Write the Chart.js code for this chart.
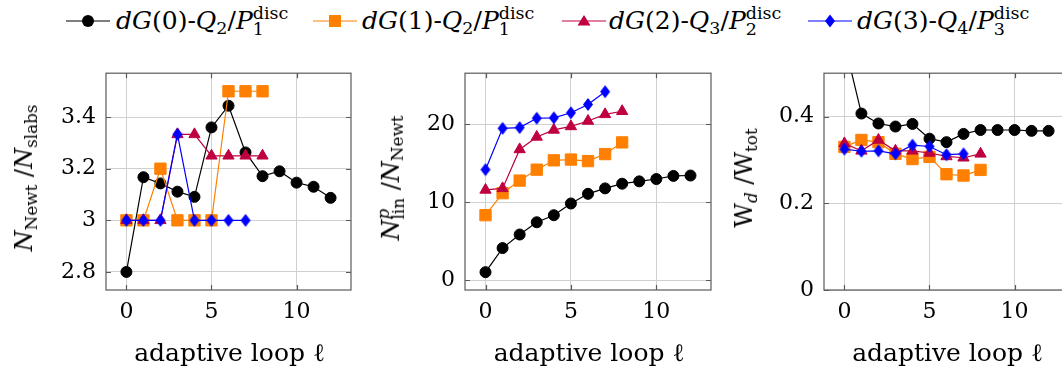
<!DOCTYPE html>
<html><head><meta charset="utf-8">
<script src="https://cdn.jsdelivr.net/npm/chart.js@4.4.1/dist/chart.umd.min.js"></script>
<style>
html,body{margin:0;padding:0;overflow:hidden;background:#fff;width:1062px;height:368px;}
body{position:relative;font-family:"DejaVu Serif",serif;color:#000;}
canvas{position:absolute;}
.t{position:absolute;white-space:nowrap;line-height:1;}
.leg{font-size:25px;}
.ax{font-size:24px;}
.axx{font-size:25px;}
.sub{font-size:.7em;vertical-align:-.28em;line-height:0}
.ss{display:inline-block;font-size:.7em;line-height:.9;vertical-align:-.32em;text-align:left}
.ss span{display:block}
.rot{transform:translate(-50%,-50%) rotate(-90deg);}
svg{position:absolute;overflow:visible}
</style></head><body>
<canvas id="c1" width="350" height="290" style="left:20px;top:50px"></canvas>
<canvas id="c2" width="350" height="290" style="left:380px;top:50px"></canvas>
<canvas id="c3" width="350" height="290" style="left:740px;top:50px"></canvas>
<div id="legend"></div>
<div class="t ax rot" style="left:24px;top:178px"><i>N</i><span class="sub">Newt</span> /<i>N</i><span class="sub">slabs</span></div>
<div class="t ax rot" style="left:391px;top:178px"><i>N</i><span class="ss"><span><i>p</i></span><span>lin</span></span> /<i>N</i><span class="sub">Newt</span></div>
<div class="t ax rot" style="left:744px;top:178px">W<span class="sub"><i>d</i></span> /W<span class="sub">tot</span></div>
<div class="t axx" style="left:229.5px;top:340px;transform:translateX(-50%)">adaptive loop ℓ</div>
<div class="t axx" style="left:589px;top:340px;transform:translateX(-50%)">adaptive loop ℓ</div>
<div class="t axx" style="left:947.5px;top:340px;transform:translateX(-50%)">adaptive loop ℓ</div>
<script>
// ---------- data ----------
const LOOP = [0,1,2,3,4,5,6,7,8,9,10,11,12];
const X_TICKS = [0,5,10];

const SERIES_LABELS = [
  '<i>dG</i>(0)-<i>Q</i><span class="sub">2</span>/<i>P</i><span class="ss"><span>disc</span><span>1</span></span>',
  '<i>dG</i>(1)-<i>Q</i><span class="sub">2</span>/<i>P</i><span class="ss"><span>disc</span><span>1</span></span>',
  '<i>dG</i>(2)-<i>Q</i><span class="sub">3</span>/<i>P</i><span class="ss"><span>disc</span><span>2</span></span>',
  '<i>dG</i>(3)-<i>Q</i><span class="sub">4</span>/<i>P</i><span class="ss"><span>disc</span><span>3</span></span>'
];

// panel 1: N_Newt / N_slabs
const NEWT_DG0 = [2.80, 3.167, 3.143, 3.111, 3.091, 3.36, 3.444, 3.263, 3.171, 3.19, 3.146, 3.13, 3.087];
const NEWT_DG1 = [3, 3, 3.2, 3, 3, 3, 3.5, 3.5, 3.5];
const NEWT_DG2 = [3, 3, 3, 3.333, 3.333, 3.25, 3.25, 3.25, 3.25];
const NEWT_DG3 = [3, 3, 3, 3.333, 3, 3, 3, 3];
const Y1_TICKS = [2.8, 3, 3.2, 3.4];

// panel 2: N^p_lin / N_Newt
const LIN_DG0 = [1.05, 4.14, 5.88, 7.45, 8.36, 9.86, 11.1, 11.8, 12.4, 12.7, 13.0, 13.4, 13.45];
const LIN_DG1 = [8.36, 11.18, 12.8, 14.2, 15.4, 15.5, 15.3, 16.2, 17.7];
const LIN_DG2 = [11.6, 11.8, 16.8, 18.4, 19.3, 19.75, 20.45, 21.3, 21.7];
const LIN_DG3 = [14.2, 19.5, 19.6, 20.8, 20.85, 21.5, 22.57, 24.2];
const Y2_TICKS = [0, 10, 20];

// panel 3: W_d / W_tot
const W_DG0 = [0.57, 0.407, 0.384, 0.377, 0.383, 0.349, 0.341, 0.36, 0.369, 0.369, 0.369, 0.367, 0.367];
const W_DG1 = [0.330, 0.346, 0.341, 0.314, 0.302, 0.307, 0.267, 0.264, 0.277];
const W_DG2 = [0.338, 0.321, 0.346, 0.321, 0.321, 0.316, 0.308, 0.305, 0.314];
const W_DG3 = [0.325, 0.32, 0.321, 0.314, 0.334, 0.331, 0.312, 0.314];
const Y3_TICKS = [0, 0.2, 0.4];

// ---------- styles ----------
const FONT = '"DejaVu Serif", serif';
const GRID = '#d0d0d0';
const FRAME = '#5a5a5a';
const COLORS = ['#000000', '#ff8000', '#bf0040', '#0000ff'];

function diamond(w, h, color) {
  const c = document.createElement('canvas');
  c.width = w + 2; c.height = h + 2;
  const g = c.getContext('2d');
  g.fillStyle = color;
  g.beginPath();
  g.moveTo((w + 2) / 2, 1); g.lineTo(w + 1, (h + 2) / 2);
  g.lineTo((w + 2) / 2, h + 1); g.lineTo(1, (h + 2) / 2);
  g.closePath(); g.fill();
  return c;
}
const MARKS = [
  {pointStyle: 'circle', pointRadius: 5.5},
  {pointStyle: 'rect', pointRadius: 8},
  {pointStyle: 'triangle', pointRadius: 6.5},
  {pointStyle: diamond(10, 13, COLORS[3]), pointRadius: 7}
];

// ---------- legend ----------
const LEG_LINE_X = [66, 313, 562, 808];
const LEG_TEXT_X = [116, 362, 609, 857];
const legSvg = [
  '<circle cx="22" cy="8" r="6" fill="#000"/>',
  '<rect x="16" y="2" width="12" height="12" fill="' + COLORS[1] + '"/>',
  '<polygon points="22,2 28.5,12.5 15.5,12.5" fill="' + COLORS[2] + '"/>',
  '<polygon points="22,1.5 27,8 22,14.5 17,8" fill="' + COLORS[3] + '"/>'
];
let lh = '';
for (let i = 0; i < 4; i++) {
  lh += '<svg width="44" height="16" style="left:' + LEG_LINE_X[i] + 'px;top:13px">' +
        '<line x1="0" y1="8" x2="44" y2="8" stroke="' + COLORS[i] + '" stroke-width="1.2"/>' + legSvg[i] + '</svg>';
  lh += '<div class="t leg" style="left:' + LEG_TEXT_X[i] + 'px;top:6px">' + SERIES_LABELS[i] + '</div>';
}
document.getElementById('legend').innerHTML = lh;

// ---------- charts ----------
const framePlugin = {
  id: 'frame',
  beforeDatasetsDraw(chart) {
    const {ctx, chartArea: a, scales: {x, y}} = chart;
    ctx.save();
    ctx.strokeStyle = FRAME;
    ctx.lineWidth = 1.2;
    ctx.beginPath();
    x.ticks.forEach(t => {
      const p = Math.round(x.getPixelForValue(t.value)) + 0.5;
      ctx.moveTo(p, a.bottom); ctx.lineTo(p, a.bottom - 5);
      ctx.moveTo(p, a.top); ctx.lineTo(p, a.top + 5);
    });
    y.ticks.forEach(t => {
      const p = Math.round(y.getPixelForValue(t.value)) + 0.5;
      ctx.moveTo(a.left, p); ctx.lineTo(a.left + 5, p);
      ctx.moveTo(a.right, p); ctx.lineTo(a.right - 5, p);
    });
    ctx.stroke();
    ctx.strokeRect(a.left, a.top, a.right - a.left, a.bottom - a.top);
    ctx.restore();
  }
};

function makeChart(id, series, yMin, yMax, yTicks, yWidth, padRight) {
  const datasets = series.map((vals, i) => ({
    data: vals.map((v, k) => ({x: LOOP[k], y: v})),
    borderColor: COLORS[i],
    backgroundColor: COLORS[i],
    pointBackgroundColor: COLORS[i],
    pointBorderColor: COLORS[i],
    borderWidth: 1.2,
    pointBorderWidth: 1,
    pointHoverRadius: MARKS[i].pointRadius,
    tension: 0,
    clip: 0,
    order: 3 - i,
    ...MARKS[i]
  }));
  return new Chart(document.getElementById(id), {
    type: 'line',
    data: {datasets},
    plugins: [framePlugin],
    options: {
      responsive: false,
      animation: false,
      devicePixelRatio: 1,
      layout: {padding: {top: 16, right: padRight, left: 0, bottom: 0}},
      plugins: {legend: {display: false}, tooltip: {enabled: false}},
      scales: {
        x: {
          type: 'linear', min: -1.2, max: 13.2,
          afterBuildTicks: s => { s.ticks = X_TICKS.map(v => ({value: v})); },
          afterFit: s => { s.height = 50; },
          ticks: {padding: 9, color: '#000', font: {family: FONT, size: 22}, callback: v => String(v), maxRotation: 0, autoSkip: false},
          grid: {color: GRID, drawTicks: false, lineWidth: 1},
          border: {display: false}
        },
        y: {
          type: 'linear', min: yMin, max: yMax,
          afterBuildTicks: s => { s.ticks = yTicks.map(v => ({value: v})); },
          afterFit: s => { s.width = yWidth; },
          ticks: {padding: 10, color: '#000', font: {family: FONT, size: 22}, callback: v => String(v), autoSkip: false},
          grid: {color: GRID, drawTicks: false, lineWidth: 1},
          border: {display: false}
        }
      }
    }
  });
}

makeChart('c1', [NEWT_DG0, NEWT_DG1, NEWT_DG2, NEWT_DG3], 2.73, 3.57, Y1_TICKS, 86, 19);
makeChart('c2', [LIN_DG0, LIN_DG1, LIN_DG2, LIN_DG3], -1.24, 26.58, Y2_TICKS, 85, 19);
makeChart('c3', [W_DG0, W_DG1, W_DG2, W_DG3], 0, 0.5, Y3_TICKS, 84, 21);
</script>
</body></html>
